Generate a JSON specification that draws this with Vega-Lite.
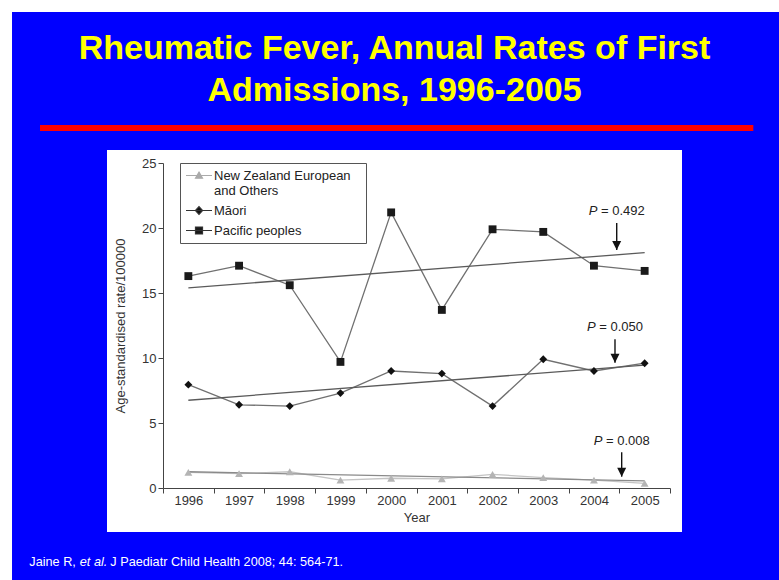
{
  "$schema": "https://vega.github.io/schema/vega-lite/v6.json",
  "width": 575,
  "height": 382,
  "autosize": {"type": "none"},
  "padding": {"left": 107, "top": 150, "right": 97, "bottom": 48},
  "background": "#0000FF",
  "config": {
    "view": {"fill": "white", "stroke": null},
    "font": "Liberation Sans"
  },
  "title": {
    "text": ["Rheumatic Fever, Annual Rates of First", "Admissions, 1996-2005"],
    "font": "Liberation Sans",
    "fontSize": 34,
    "fontWeight": "bold",
    "color": "#FFFF00",
    "anchor": "middle",
    "frame": "group",
    "baseline": "top",
    "lineHeight": 42.7,
    "offset": -108.5
  },
  "datasets": {
    "rates": [
      {"series": "New Zealand European and Others", "year": 1996, "rate": 1.2},
      {"series": "New Zealand European and Others", "year": 1997, "rate": 1.1},
      {"series": "New Zealand European and Others", "year": 1998, "rate": 1.25},
      {"series": "New Zealand European and Others", "year": 1999, "rate": 0.6},
      {"series": "New Zealand European and Others", "year": 2000, "rate": 0.75},
      {"series": "New Zealand European and Others", "year": 2001, "rate": 0.7},
      {"series": "New Zealand European and Others", "year": 2002, "rate": 1.05},
      {"series": "New Zealand European and Others", "year": 2003, "rate": 0.8},
      {"series": "New Zealand European and Others", "year": 2004, "rate": 0.6},
      {"series": "New Zealand European and Others", "year": 2005, "rate": 0.35},
      {"series": "Māori", "year": 1996, "rate": 7.95},
      {"series": "Māori", "year": 1997, "rate": 6.4},
      {"series": "Māori", "year": 1998, "rate": 6.3},
      {"series": "Māori", "year": 1999, "rate": 7.3},
      {"series": "Māori", "year": 2000, "rate": 9.0},
      {"series": "Māori", "year": 2001, "rate": 8.8},
      {"series": "Māori", "year": 2002, "rate": 6.3},
      {"series": "Māori", "year": 2003, "rate": 9.9},
      {"series": "Māori", "year": 2004, "rate": 9.0},
      {"series": "Māori", "year": 2005, "rate": 9.6},
      {"series": "Pacific peoples", "year": 1996, "rate": 16.3},
      {"series": "Pacific peoples", "year": 1997, "rate": 17.1},
      {"series": "Pacific peoples", "year": 1998, "rate": 15.6},
      {"series": "Pacific peoples", "year": 1999, "rate": 9.7},
      {"series": "Pacific peoples", "year": 2000, "rate": 21.2},
      {"series": "Pacific peoples", "year": 2001, "rate": 13.7},
      {"series": "Pacific peoples", "year": 2002, "rate": 19.9},
      {"series": "Pacific peoples", "year": 2003, "rate": 19.7},
      {"series": "Pacific peoples", "year": 2004, "rate": 17.1},
      {"series": "Pacific peoples", "year": 2005, "rate": 16.7}
    ],
    "trend": [
      {"series": "New Zealand European and Others", "year": 1996, "rate": 1.25},
      {"series": "New Zealand European and Others", "year": 2005, "rate": 0.55},
      {"series": "Māori", "year": 1996, "rate": 6.75},
      {"series": "Māori", "year": 2005, "rate": 9.45},
      {"series": "Pacific peoples", "year": 1996, "rate": 15.4},
      {"series": "Pacific peoples", "year": 2005, "rate": 18.1}
    ],
    "notes": [
      {"series": "Pacific peoples", "year": 2004.449, "ytext": 21.27, "ytail": 20.38, "ytip": 18.31, "p": "= 0.492"},
      {"series": "Māori", "year": 2004.415, "ytext": 12.41, "ytail": 11.44, "ytip": 9.64, "p": "= 0.050"},
      {"series": "New Zealand European and Others", "year": 2004.547, "ytext": 3.64, "ytail": 2.75, "ytip": 0.87, "p": "= 0.008"}
    ]
  },
  "layer": [
    {
      "data": {"name": "rates"},
      "mark": {"type": "line", "strokeWidth": 1.3},
      "encoding": {
        "x": {
          "field": "year", "type": "quantitative",
          "scale": {"domain": [1995.5, 2005.5], "range": [56, 563], "nice": false, "zero": false},
          "axis": {
            "title": "Year", "offset": -44, "zindex": 1,
            "values": [1995.5, 1996.5, 1997.5, 1998.5, 1999.5, 2000.5, 2001.5, 2002.5, 2003.5, 2004.5, 2005.5],
            "labelExpr": "datum.value < 2005.2 ? format(datum.value + 0.5, 'd') : ''",
            "labelOffset": 25.35, "labelFlush": false, "labelOverlap": false, "labelBound": false,
            "grid": false, "tickSize": 5, "labelPadding": 1,
            "domainColor": "#444", "tickColor": "#444", "labelColor": "#333", "labelFontSize": 13,
            "titleFontSize": 13, "titleFontWeight": "normal", "titleColor": "#333", "titlePadding": 4
          }
        },
        "y": {
          "field": "rate", "type": "quantitative",
          "scale": {"domain": [0, 25], "range": [338, 13], "nice": false, "zero": false},
          "axis": {
            "title": "Age-standardised rate/100000", "offset": -56, "zindex": 1,
            "values": [0, 5, 10, 15, 20, 25], "grid": false, "tickSize": 5, "labelPadding": 2,
            "domainColor": "#444", "tickColor": "#444", "labelColor": "#333", "labelFontSize": 13,
            "titleFontSize": 13, "titleFontWeight": "normal", "titleColor": "#333", "titlePadding": 14
          }
        },
        "detail": {"field": "series"},
        "stroke": {"field": "series", "type": "nominal", "legend": null,
          "scale": {"domain": ["New Zealand European and Others", "Māori", "Pacific peoples"], "range": ["#c4c4c4", "#707070", "#707070"]}}
      }
    },
    {
      "data": {"values": [{}]},
      "mark": {"type": "rect", "fill": "white"},
      "encoding": {
        "x": {"datum": 1992.285, "type": "quantitative"},
        "x2": {"datum": 1992.522},
        "y": {"datum": 37.538, "type": "quantitative"},
        "y2": {"datum": -7.077}
      }
    },
    {
      "data": {"values": [{}]},
      "mark": {"type": "rect", "fill": "white"},
      "encoding": {
        "x": {"datum": 1992.285, "type": "quantitative"},
        "x2": {"datum": 2007.65},
        "y": {"datum": 37.538, "type": "quantitative"},
        "y2": {"datum": 36.615}
      }
    },
    {
      "data": {"values": [{}]},
      "mark": {"type": "rule", "color": "#FF0000", "strokeWidth": 6},
      "encoding": {
        "x": {"datum": 1993.074, "type": "quantitative"},
        "x2": {"datum": 2007.143},
        "y": {"datum": 27.69, "type": "quantitative"}
      }
    },
    {
      "data": {"values": [{}]},
      "mark": {"type": "text", "text": "Jaine R,", "align": "left", "baseline": "middle", "color": "white", "fontSize": 12.7},
      "encoding": {
        "x": {"datum": 1992.863, "type": "quantitative"},
        "y": {"datum": -5.715, "type": "quantitative"}
      }
    },
    {
      "data": {"values": [{}]},
      "mark": {"type": "text", "text": "et al.", "align": "left", "baseline": "middle", "color": "white", "fontSize": 12.7, "fontStyle": "italic", "dx": 50.5},
      "encoding": {
        "x": {"datum": 1992.863, "type": "quantitative"},
        "y": {"datum": -5.715, "type": "quantitative"}
      }
    },
    {
      "data": {"values": [{}]},
      "mark": {"type": "text", "text": "J Paediatr Child Health 2008; 44: 564-71.", "align": "left", "baseline": "middle", "color": "white", "fontSize": 12.7, "dx": 81},
      "encoding": {
        "x": {"datum": 1992.863, "type": "quantitative"},
        "y": {"datum": -5.715, "type": "quantitative"}
      }
    },
    {
      "data": {"name": "trend"},
      "mark": {"type": "line", "strokeWidth": 1.3},
      "encoding": {
        "x": {"field": "year", "type": "quantitative"},
        "y": {"field": "rate", "type": "quantitative"},
        "detail": {"field": "series"},
        "stroke": {"field": "series", "type": "nominal", "legend": null,
          "scale": {"domain": ["New Zealand European and Others", "Māori", "Pacific peoples"], "range": ["#8a8a8a", "#5a5a5a", "#5a5a5a"]}}
      }
    },
    {
      "data": {"name": "rates"},
      "mark": {"type": "point", "filled": true, "size": 62, "opacity": 1},
      "encoding": {
        "x": {"field": "year", "type": "quantitative"},
        "y": {"field": "rate", "type": "quantitative"},
        "shape": {"field": "series", "type": "nominal", "legend": null,
          "scale": {"domain": ["New Zealand European and Others", "Māori", "Pacific peoples"], "range": ["triangle-up", "diamond", "square"]}},
        "fill": {"field": "series", "type": "nominal", "legend": null,
          "scale": {"domain": ["New Zealand European and Others", "Māori", "Pacific peoples"], "range": ["#b4b4b4", "#111111", "#1a1a1a"]}}
      }
    },
    {
      "data": {"name": "rates"},
      "mark": {"type": "point", "filled": true, "size": 169, "clip": true, "strokeWidth": 1.2, "opacity": 1},
      "encoding": {
        "x": {"datum": 2000, "type": "quantitative"},
        "y": {"datum": -40, "type": "quantitative"},
        "shape": {"field": "series", "type": "nominal",
          "scale": {"domain": ["New Zealand European and Others", "Māori", "Pacific peoples"],
            "range": ["M-2,0H2M0,-0.52L0.54,0.42H-0.54Z", "M-2,0H2M0,-0.6L0.55,0L0,0.6L-0.55,0Z", "M-2,0H2M-0.54,-0.54H0.54V0.54H-0.54Z"]},
          "legend": {"orient": "none", "legendX": 73, "legendY": 13, "title": null, "symbolSize": 169, "symbolStrokeWidth": 1.2, "symbolOffset": 6.5,
            "labelExpr": "datum.label == 'New Zealand European and Others' ? ['New Zealand European\u2800', 'and Others'] : datum.label",
            "labelFontSize": 13, "labelColor": "#222", "labelOffset": 7.5, "labelLimit": 300,
            "strokeColor": "#555", "fillColor": "white", "padding": 5, "rowPadding": 5, "zindex": 1}},
        "fill": {"field": "series", "type": "nominal",
          "scale": {"domain": ["New Zealand European and Others", "Māori", "Pacific peoples"], "range": ["#aaaaaa", "#111111", "#1a1a1a"]},
          "legend": {"orient": "none", "legendX": 73, "legendY": 13, "title": null, "symbolSize": 169, "symbolStrokeWidth": 1.2, "symbolOffset": 6.5,
            "labelExpr": "datum.label == 'New Zealand European and Others' ? ['New Zealand European\u2800', 'and Others'] : datum.label",
            "labelFontSize": 13, "labelColor": "#222", "labelOffset": 7.5, "labelLimit": 300,
            "strokeColor": "#555", "fillColor": "white", "padding": 5, "rowPadding": 5, "zindex": 1}},
        "stroke": {"field": "series", "type": "nominal",
          "scale": {"domain": ["New Zealand European and Others", "Māori", "Pacific peoples"], "range": ["#aaaaaa", "#333333", "#333333"]},
          "legend": {"orient": "none", "legendX": 73, "legendY": 13, "title": null, "symbolSize": 169, "symbolStrokeWidth": 1.2, "symbolOffset": 6.5,
            "labelExpr": "datum.label == 'New Zealand European and Others' ? ['New Zealand European\u2800', 'and Others'] : datum.label",
            "labelFontSize": 13, "labelColor": "#222", "labelOffset": 7.5, "labelLimit": 300,
            "strokeColor": "#555", "fillColor": "white", "padding": 5, "rowPadding": 5, "zindex": 1}}
      }
    },
    {
      "data": {"name": "notes"},
      "mark": {"type": "rule", "color": "#111", "strokeWidth": 1.4},
      "encoding": {
        "x": {"field": "year", "type": "quantitative"},
        "y": {"field": "ytail", "type": "quantitative"},
        "y2": {"field": "ytip"}
      }
    },
    {
      "data": {"name": "notes"},
      "mark": {"type": "point", "shape": "M-0.5,-1L0.5,-1L0,0Z", "size": 324, "filled": true, "color": "#111", "opacity": 1},
      "encoding": {
        "x": {"field": "year", "type": "quantitative"},
        "y": {"field": "ytip", "type": "quantitative"}
      }
    },
    {
      "data": {"name": "notes"},
      "mark": {"type": "text", "text": "P", "fontStyle": "italic", "align": "right", "baseline": "middle", "dx": -19.3, "fontSize": 13, "color": "#222"},
      "encoding": {
        "x": {"field": "year", "type": "quantitative"},
        "y": {"field": "ytext", "type": "quantitative"}
      }
    },
    {
      "data": {"name": "notes"},
      "mark": {"type": "text", "align": "left", "baseline": "middle", "dx": -15.7, "fontSize": 13, "color": "#222"},
      "encoding": {
        "x": {"field": "year", "type": "quantitative"},
        "y": {"field": "ytext", "type": "quantitative"},
        "text": {"field": "p"}
      }
    }
  ],
  "resolve": {"scale": {"shape": "independent", "fill": "independent", "stroke": "independent"}}
}
